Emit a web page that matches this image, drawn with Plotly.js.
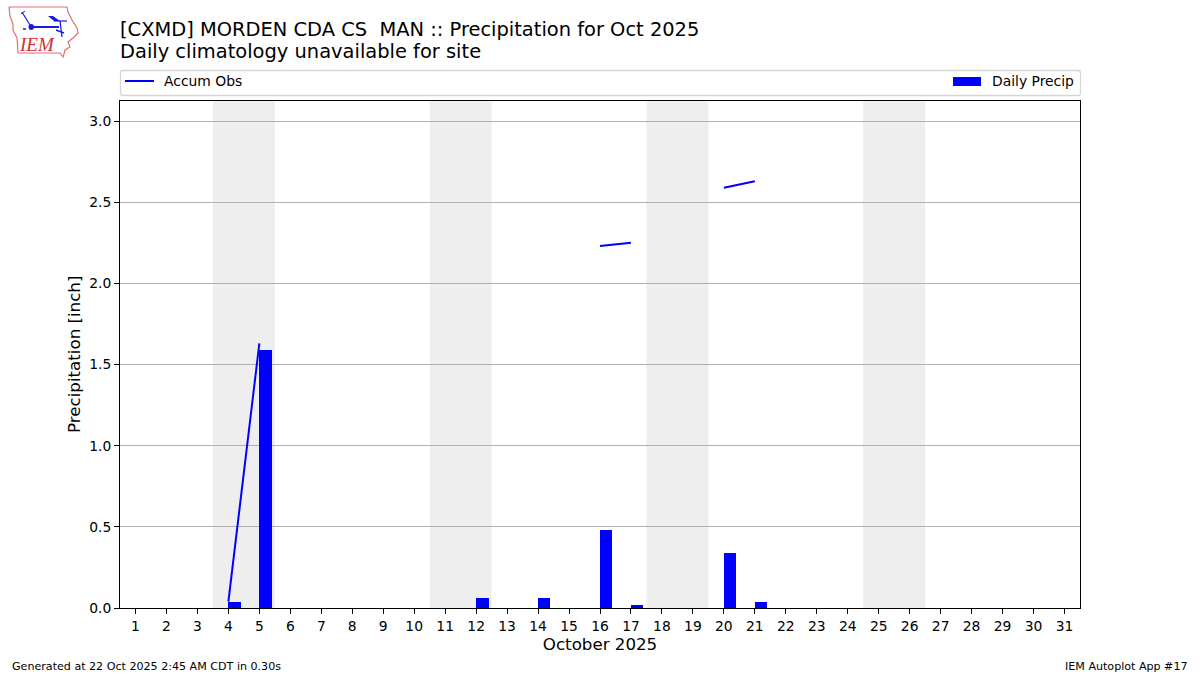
<!DOCTYPE html>
<html><head><meta charset="utf-8">
<script src="https://cdn.plot.ly/plotly-3.0.1.min.js"></script>
<style>html,body{margin:0;padding:0;background:#fff}</style>
</head><body><div id="c" style="width:1200px;height:675px"></div>
<script>
const days = [1,2,3,4,5,6,7,8,9,10,11,12,13,14,15,16,17,18,19,20,21,22,23,24,25,26,27,28,29,30,31];
const dailyPrecip = [0,0,0,0.04,1.59,0,0,0,0,0,0,0.06,0,0.06,0,0.48,0.02,0,0,0.34,0.04,0,0,0,0,0,0,0,0,0,0];
const accumObs = [null,null,null,0.04,1.63,null,null,null,null,null,null,null,null,null,null,2.23,2.25,null,null,2.59,2.63,null,null,null,null,null,null,null,null,null,null];
const weekendSpans = [[3.5,5.5],[10.5,12.5],[17.5,19.5],[24.5,26.5]];
const yTicks = [0,0.5,1,1.5,2,2.5,3];
const yTickLabels = ['0.0','0.5','1.0','1.5','2.0','2.5','3.0'];
const F = 'DejaVu Sans, sans-serif';
const W = 1200, H = 675;
const L = 120, R = 1080, T = 100.5, B = 608;
const px = x => x / W, py = y => 1 - y / H;
const pathOf = pts => pts.map((p,i)=>(i?'L':'M')+px(p[0])+','+py(p[1])).join(' ')+' ';
function pshape(pts, o){return Object.assign({type:'path',xref:'paper',yref:'paper',path:pathOf(pts),layer:'above'},o);}
function rect(x0,y0,x1,y1,o){return Object.assign({type:'rect',xref:'paper',yref:'paper',x0:px(x0),x1:px(x1),y0:py(y0),y1:py(y1),layer:'above'},o);}
function text(x,y,t,size,anchor,o){return Object.assign({xref:'paper',yref:'paper',x:px(x),y:py(y),text:t,showarrow:false,xanchor:anchor||'left',yanchor:'middle',font:{family:F,size:size,color:'#000'},borderpad:0,borderwidth:0},o||{});}
function roundedPath(x0,y0,x1,y1,r){
  const X=px,Y=py;
  return `M${X(x0+r)},${Y(y0)} L${X(x1-r)},${Y(y0)} Q${X(x1)},${Y(y0)} ${X(x1)},${Y(y0+r)} L${X(x1)},${Y(y1-r)} Q${X(x1)},${Y(y1)} ${X(x1-r)},${Y(y1)} L${X(x0+r)},${Y(y1)} Q${X(x0)},${Y(y1)} ${X(x0)},${Y(y1-r)} L${X(x0)},${Y(y0+r)} Q${X(x0)},${Y(y0)} ${X(x0+r)},${Y(y0)} Z`;
}

const shapes = weekendSpans.map(s=>({type:'rect',xref:'x',yref:'paper',x0:s[0],x1:s[1],y0:py(B),y1:py(T),fillcolor:'#eeeeee',line:{width:0},layer:'below'}));
// legend frame and swatches
shapes.push({type:'path',xref:'paper',yref:'paper',layer:'above',path:roundedPath(120.5,70.5,1080.5,95.5,2.5),line:{color:'#d6d6d6',width:1.3},fillcolor:'rgba(255,255,255,0)'});
shapes.push({type:'line',xref:'paper',yref:'paper',x0:px(125),x1:px(154),y0:py(81),y1:py(81),line:{color:'#0000ff',width:2}});
shapes.push(rect(953,77,981,86,{fillcolor:'#0000ff',line:{width:0}}));
// logo
const red={color:'#e07070',width:1.2};
shapes.push(pshape([[9,7],[67,7],[68,12],[72,20],[77,28],[78,33],[73,38],[68,42],[70,47],[65,50],[64,54],[63,57],[60,53],[18,53],[17,38],[13,30],[13,24],[10,16],[9,7]],{line:red,fillcolor:'rgba(255,255,255,0)'}));
const c='#1a1ae0';
shapes.push(pshape([[31,27],[59,27]],{line:{color:c,width:2}}));
shapes.push(pshape([[22,12],[25,17],[30,25]],{line:{color:c,width:1.2}}));
shapes.push(pshape([[21,14],[25,11]],{line:{color:c,width:1}}));
shapes.push(pshape([[48,16],[53,16],[60,21],[54,21]],{line:{width:0},fillcolor:c}));
shapes.push(pshape([[54,21],[67,21]],{line:{color:c,width:1.2}}));
shapes.push(pshape([[60,21],[62,37]],{line:{color:c,width:1.3}}));
shapes.push(pshape([[56,30],[64,33]],{line:{color:c,width:1.5}}));
shapes.push({type:'circle',xref:'paper',yref:'paper',x0:px(28.5),x1:px(34),y0:py(30),y1:py(24),fillcolor:c,line:{width:0},layer:'above'});
shapes.push(pshape([[23,29],[27,29]],{line:{color:c,width:1.5,dash:'dot'}}));

const annotations = [
  text(120,29,'[CXMD] MORDEN CDA CS  MAN :: Precipitation for Oct 2025',19.45),
  text(120,51,'Daily climatology unavailable for site',19.45),
  text(164,81.5,'Accum Obs',13.89),
  text(1074,81.5,'Daily Precip',13.89,'right'),
  text(12,666,'Generated at 22 Oct 2025 2:45 AM CDT in 0.30s',11.1),
  text(1188,666,'IEM Autoplot App #17',11.1,'right'),
  text(37,45,'<i>IEM</i>',19,'center',{font:{family:'Liberation Serif, serif',size:19,color:'#d03030'}})
];

const data = [
 {type:'bar',name:'Daily Precip',x:days,y:dailyPrecip,width:0.4,offset:0,marker:{color:'#0000ff',line:{width:0}},hoverinfo:'x+y'},
 {type:'scatter',mode:'lines',name:'Accum Obs',x:days,y:accumObs,connectgaps:false,line:{color:'#0000ff',width:2}}
];
const layout = {
 width:W,height:H,showlegend:false,paper_bgcolor:'#fff',plot_bgcolor:'#fff',
 margin:{l:0,r:0,t:0,b:0,pad:0},
 font:{family:F,color:'#000'},
 xaxis:{domain:[px(L),px(R)],range:[0.5,31.5],tickvals:days,ticktext:days.map(String),tickmode:'array',ticks:'outside',ticklen:4.9,tickwidth:1,tickcolor:'#000',tickfont:{family:F,size:13.89},showgrid:false,zeroline:false,showline:true,linecolor:'#000',linewidth:1,mirror:true,tickangle:0,automargin:false,
   title:{text:'October 2025',font:{family:F,size:16.67},standoff:5}},
 yaxis:{domain:[py(B),py(T)],range:[0,3.127],tickvals:yTicks,ticktext:yTickLabels,tickmode:'array',ticks:'outside',ticklen:4.9,tickwidth:1,tickcolor:'#000',tickfont:{family:F,size:13.89},showgrid:true,gridcolor:'#b0b0b0',gridwidth:1,zeroline:false,showline:true,linecolor:'#000',linewidth:1,mirror:true,automargin:false,
   title:{text:'Precipitation [inch]',font:{family:F,size:16.67},standoff:4}},
 shapes:shapes,annotations:annotations,bargap:0
};
Plotly.newPlot('c',data,layout,{displayModeBar:false,staticPlot:true});
</script></body></html>
